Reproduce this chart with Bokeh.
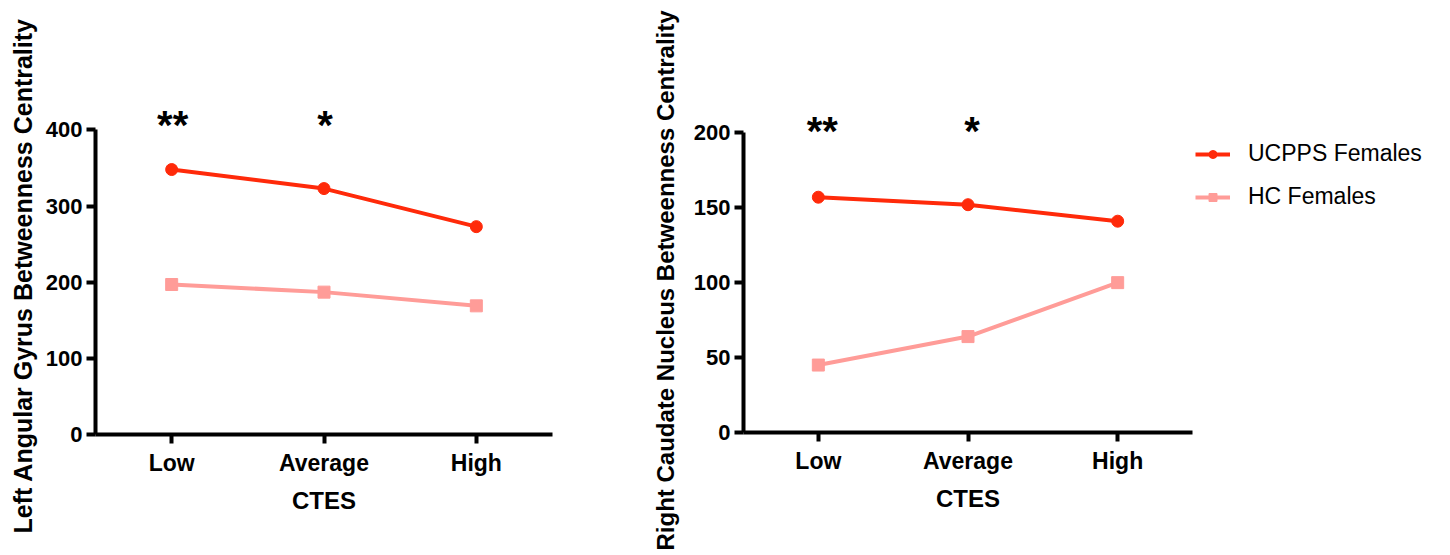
from bokeh.plotting import figure
from bokeh.models import FactorRange, Range1d, FixedTicker, Legend, LegendItem, Title
from bokeh.layouts import row
from bokeh.embed import file_html
from bokeh.resources import INLINE
from bokeh.core.properties import value

# ---- data ----
categories = ["Low", "Average", "High"]
left_ucpps = [348, 323, 273]
left_hc = [197, 187, 169]
right_ucpps = [157, 152, 141]
right_hc = [45, 64, 100]
significance = ["**", "*", ""]
left_ticks = [0, 100, 200, 300, 400]
right_ticks = [0, 50, 100, 150, 200]
series_names = ["UCPPS Females", "HC Females"]
x_title = "CTES"
left_title = "Left Angular Gyrus Betweenness Centrality"
right_title = "Right Caudate Nucleus Betweenness Centrality"

RED = "#FF2A0A"
PINK = "#FF9C98"
FONT = "Liberation Sans"


def make_panel(fw, fh, ymax, ytop, ticks, ucpps, hc, ytitle, title_size,
               title_offset, title_standoff, sig_y, sig_dx, bl, br, bt, bb):
    p = figure(frame_width=fw, frame_height=fh, x_range=FactorRange(*categories),
               y_range=Range1d(0, ytop), output_backend="svg",
               toolbar_location=None, min_border_left=bl, min_border_right=br,
               min_border_top=bt, min_border_bottom=bb)
    p.outline_line_color = None
    p.xgrid.visible = False
    p.ygrid.visible = False
    p.background_fill_color = "white"
    p.border_fill_color = "white"

    for ax in (p.xaxis[0], p.yaxis[0]):
        ax.axis_line_width = 4
        ax.axis_line_color = "black"
        ax.major_tick_line_width = 4
        ax.major_tick_line_color = "black"
        ax.major_tick_in = 0
        ax.major_tick_out = 9
        ax.minor_tick_line_color = None
        ax.major_label_text_font = FONT
        ax.major_label_text_font_style = "bold"
        ax.major_label_text_color = "black"
        ax.axis_label_text_font = FONT
        ax.axis_label_text_font_style = "bold"
        ax.axis_label_text_color = "black"

    p.yaxis[0].ticker = FixedTicker(ticks=ticks)
    p.yaxis[0].bounds = (0, ymax)
    p.yaxis[0].major_label_standoff = 4
    p.yaxis[0].major_label_text_font_size = "22px"

    p.xaxis[0].axis_label = x_title
    p.xaxis[0].axis_label_text_font_size = "24px"
    p.xaxis[0].major_label_text_font_size = "23px"
    p.xaxis[0].major_label_standoff = 6
    p.xaxis[0].axis_label_standoff = 8

    t = Title(text=ytitle, align="left", vertical_align="bottom",
              offset=title_offset, standoff=title_standoff, text_font=FONT,
              text_font_style="bold", text_font_size=title_size,
              text_color="black")
    p.add_layout(t, "left")

    r1 = p.line(categories, ucpps, line_color=RED, line_width=4)
    r1m = p.scatter(categories, ucpps, marker="circle", size=12,
                    fill_color=RED, line_color=RED)
    r2 = p.line(categories, hc, line_color=PINK, line_width=4)
    r2m = p.scatter(categories, hc, marker="square", size=12,
                    fill_color=PINK, line_color=PINK)

    p.text(categories, [sig_y] * len(categories), text=significance,
           x_offset=sig_dx,
           text_font=value(FONT), text_font_style="bold",
           text_font_size="40px", text_align="center",
           text_baseline="alphabetic", text_color="black")
    return p, (r1, r1m), (r2, r2m)


p1, _, _ = make_panel(457, 335, 400, 440, left_ticks, left_ucpps, left_hc,
                      left_title, "25px", -99, 12, 407, 1, 95, 68, 99, 121)
p2, a, b = make_panel(449, 333, 200, 222.2, right_ticks, right_ucpps, right_hc,
                      right_title, "24px", -118, 24, 201, 4, 123, 258, 99, 123)

legend = Legend(items=[LegendItem(label=series_names[0], renderers=list(a)),
                       LegendItem(label=series_names[1], renderers=list(b))],
                location="top_left")
legend.title = " "
legend.title_text_font_size = "20px"
legend.title_standoff = 15
legend.padding = 0
legend.margin = 3
legend.border_line_color = None
legend.background_fill_alpha = 0
legend.glyph_width = 35
legend.glyph_height = 20
legend.label_height = 20
legend.spacing = 16
legend.label_standoff = 18
legend.label_text_font = FONT
legend.label_text_font_size = "23px"
legend.label_text_color = "black"
p2.add_layout(legend, "right")

layout = row(p1, p2)
open("out.html", "w").write(file_html(layout, INLINE))
